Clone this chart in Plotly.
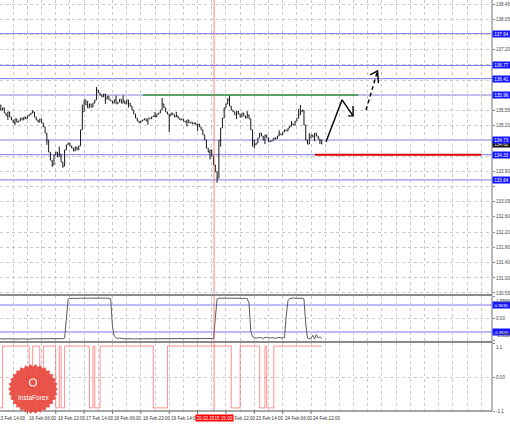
import math
import plotly.graph_objects as go
from plotly.subplots import make_subplots

# ---------------- data ----------------
bar_index = list(range(183))
close = [
    135.69, 135.55, 135.61,
    135.47, 135.39, 135.50, 135.36,
    135.28, 135.20, 135.31, 135.22,
    135.25, 135.33, 135.28, 135.36, 135.31, 135.39, 135.42, 135.47, 135.50,
    135.36, 135.28, 135.22, 135.31, 135.20,
    135.09, 134.92, 134.73,
    134.40, 134.18, 134.05,
    134.32, 134.40, 134.27, 134.35,
    134.13, 134.02,
    134.46, 134.60, 134.65, 134.57,
    134.51, 134.43, 134.54, 134.46, 134.57,
    135.01, 135.50, 135.83,
    135.69, 135.61, 135.72, 135.63, 135.74, 135.83,
    136.10, 136.02,
    135.96, 135.91, 135.99, 135.85, 135.93, 135.83,
    135.80, 135.74, 135.83, 135.72, 135.77, 135.85, 135.74, 135.80, 135.72, 135.83, 135.74,
    135.66, 135.55, 135.44, 135.33, 135.25, 135.20,
    135.25, 135.28, 135.31, 135.25, 135.33, 135.31, 135.36, 135.39, 135.36, 135.44, 135.47,
    135.55, 135.72, 135.61,
    135.50, 135.44, 135.39, 135.47, 135.42, 135.36, 135.39,
    135.33, 135.28, 135.31, 135.25, 135.22, 135.28, 135.20, 135.22, 135.17, 135.20, 135.14, 135.17, 135.09,
    135.01, 134.87, 134.73,
    134.51, 134.40, 134.46, 134.29,
    134.05, 133.86, 133.69,
    134.73, 135.06, 135.33,
    135.61, 135.72, 135.83, 135.66, 135.55,
    135.50, 135.42, 135.52, 135.44, 135.36, 135.47, 135.39, 135.33, 135.42, 135.31,
    135.01, 134.73, 134.60, 134.65,
    134.79, 134.92, 134.84, 134.73, 134.87, 134.79, 134.68,
    134.70, 134.73, 134.79, 134.76, 134.84, 134.90, 134.87, 134.95, 135.01, 134.98, 135.06, 135.11,
    135.17, 135.14, 135.25, 135.33, 135.42,
    135.50, 135.55,
    135.14, 134.73, 134.62,
    134.79, 134.87, 134.81, 134.92, 134.84, 134.76, 134.73,
    134.62,
]
first_open = 135.65
wick_high_bars = [0, 19, 34, 47, 50, 55, 66, 70, 88, 92, 100, 129, 130, 140, 158, 165,
                  169, 170, 175]
wick_high_vals = [135.80, 135.55, 134.55, 135.70, 135.80, 136.18, 135.95, 135.95, 135.50,
                  135.88, 135.50, 135.88, 135.95, 135.52, 135.00, 135.25, 135.58, 135.69,
                  134.92]
wick_low_bars = [5, 9, 27, 30, 36, 60, 73, 84, 96, 106, 112, 119, 123, 125, 134, 143, 144,
                 150, 178, 181]
wick_low_vals = [135.28, 135.14, 134.60, 134.00, 133.97, 135.72, 135.62, 135.15, 134.95,
                 135.10, 134.98, 134.20, 133.56, 134.55, 135.30, 134.55, 134.50, 134.62,
                 134.70, 134.62]

osc = [
    -1.44, -1.46, -1.45, -1.47, -1.45, -1.44, -1.46, -1.45, -1.45, -1.47,
    -1.46, -1.44, -1.45, -1.46, -1.45, -1.47, -1.45, -1.44, -1.46, -1.45,
    -1.45, -1.46, -1.44, -1.45, -1.47, -1.46, -1.45, -1.44, -1.45, -1.46,
    -1.45, -1.47, -1.45, -1.44, -1.46, -1.45, -1.44, -1.40,
    0.10,
    1.38, 1.44, 1.46, 1.45, 1.43, 1.46, 1.44, 1.45, 1.47, 1.44,
    1.45, 1.43, 1.46, 1.45, 1.44, 1.46, 1.45, 1.43, 1.45, 1.46,
    1.44, 1.45, 1.46, 1.44, 1.40,
    -0.60,
    -1.25, -1.38, -1.42, -1.40, -1.43,
    -1.45, -1.46, -1.44, -1.45, -1.47, -1.45, -1.44, -1.46, -1.45, -1.45,
    -1.46, -1.44, -1.45, -1.47, -1.46, -1.45, -1.44, -1.45, -1.46, -1.45,
    -1.47, -1.45, -1.44, -1.46, -1.45, -1.44, -1.45, -1.46, -1.45, -1.47,
    -1.46, -1.44, -1.45, -1.46, -1.45, -1.47, -1.45, -1.44, -1.46, -1.45,
    -1.45, -1.46, -1.44, -1.45, -1.47, -1.46, -1.45, -1.44, -1.45, -1.46,
    -1.45, -1.43,
    0.00,
    1.40, 1.45, 1.46, 1.44, 1.45, 1.47, 1.45, 1.44, 1.46, 1.45,
    1.44, 1.46, 1.45, 1.43, 1.45, 1.46, 1.44, 1.42,
    1.10,
    -0.90,
    -1.30,
    -1.36, -1.40, -1.38, -1.35, -1.39, -1.41, -1.37, -1.34, -1.38, -1.40,
    -1.36, -1.39, -1.42, -1.37, -1.35, -1.39, -1.40, -1.36,
    0.20,
    1.30,
    1.42, 1.45, 1.46, 1.44, 1.45, 1.46, 1.44, 1.45, 1.40,
    -0.40,
    -1.40,
    -1.45, -1.40, -1.20, -1.45, -1.15, -1.40, -1.30, -1.42,
]

signal_x = [0, 2, 17, 19, 23, 25, 32, 34, 35, 37, 51, 53, 54, 57, 87, 95,
            131, 136, 147, 150, 151, 155, 182]
signal_y = [-1, 1, -1, 1, -1, 1, -1, 1, -1, 1, -1, 1, -1, 1, -1, 1,
            -1, 1, -1, 1, -1, 1, 1]

level_values = [137.64, 136.77, 136.41, 135.96, 134.73, 134.33, 133.64]
level_labels = ["137.64", "136.77", "136.41", "135.96", "134.73", "134.33", "133.64"]

grid_values = [138.45, 138.03, 137.62, 137.20, 136.79, 136.37, 135.96, 135.54,
               135.12, 134.71, 134.29, 133.88, 133.46, 133.04, 132.63, 132.21,
               131.80, 131.38, 130.96, 130.55]
grid_labels = ["138.45", "138.05", "", "137.20", "", "", "", "135.55",
               "135.20", "", "", "133.90", "", "133.05", "132.60", "132.20",
               "131.80", "131.40", "131.00", "130.55"]

resistance_level, resistance_from, resistance_to = 135.96, 81.2, 202.5
support_level, support_from, support_to = 134.33, 178.2, 272.0

forecast_solid_x = [184.4, 193.5, 199.7]
forecast_solid_y = [134.68, 135.83, 135.39]
forecast_solid_head_x = [196.9, 199.7, 199.7]
forecast_solid_head_y = [135.39, 135.39, 135.66]
forecast_dash_x = [207.0, 213.5]
forecast_dash_y = [135.55, 136.62]
forecast_dash_head_x = [209.3, 213.5, 214.0]
forecast_dash_head_y = [136.51, 136.62, 136.29]

osc_level_values = [0.9630, -0.9630]
osc_level_labels = ["0.9630", "-0.9630"]

x_tick_bars = [0, 16, 32, 48, 64, 80, 96, 112, 128, 144, 160, 176]
x_tick_labels = ["13 Feb 14:00", "16 Feb 06:00", "16 Feb 22:00", "17 Feb 14:00",
                 "18 Feb 06:00", "18 Feb 22:00", "19 Feb 14:00", "",
                 "20 Feb 22:00", "23 Feb 14:00", "24 Feb 06:00", "24 Feb 22:00"]
event_bar = 121.3
event_label = "20.02.2015 15:00"

# ---------------- derived OHLC ----------------
opens = [first_open] + close[:-1]
highs = [max(o, c) for o, c in zip(opens, close)]
lows = [min(o, c) for o, c in zip(opens, close)]
for b, v in zip(wick_high_bars, wick_high_vals):
    highs[b] = max(highs[b], v)
for b, v in zip(wick_low_bars, wick_low_vals):
    lows[b] = min(lows[b], v)

# ---------------- figure ----------------
W, H = 510, 424
PW, PH = 492, 411  # plot area in px
FONT = "Liberation Sans"
FS = 4.6
X0 = 0.564  # first visible bar position (left edge)
X1 = 278.05

fig = make_subplots(rows=3, cols=1, shared_xaxes=True, vertical_spacing=0)

fig.add_trace(go.Ohlc(x=bar_index, open=opens, high=highs, low=lows, close=close,
                      increasing_line_color="#151515", decreasing_line_color="#151515",
                      line_width=1, tickwidth=0.35, hoverinfo="skip"), row=1, col=1)

fig.add_trace(go.Scatter(x=forecast_solid_x, y=forecast_solid_y, mode="lines",
                         line=dict(color="black", width=1.4)), row=1, col=1)
fig.add_trace(go.Scatter(x=forecast_solid_head_x, y=forecast_solid_head_y, mode="lines",
                         line=dict(color="black", width=1.4)), row=1, col=1)
fig.add_trace(go.Scatter(x=forecast_dash_x, y=forecast_dash_y, mode="lines",
                         line=dict(color="black", width=1.4, dash="4px,3px")), row=1, col=1)
fig.add_trace(go.Scatter(x=forecast_dash_head_x, y=forecast_dash_head_y, mode="lines",
                         line=dict(color="black", width=1.4)), row=1, col=1)

fig.add_trace(go.Scatter(x=bar_index, y=osc, mode="lines",
                         line=dict(color="#5a5a5a", width=1)), row=2, col=1)
fig.add_trace(go.Scatter(x=signal_x, y=signal_y, mode="lines",
                         line=dict(color="rgba(255,70,70,0.6)", width=1, shape="hv")),
              row=3, col=1)

# horizontal levels
for v in level_values:
    fig.add_shape(type="line", xref="x domain", yref="y", x0=0, x1=1, y0=v, y1=v,
                  line=dict(color="#7878f4", width=1), layer="below")
for v in osc_level_values:
    fig.add_shape(type="line", xref="x2 domain", yref="y2", x0=0, x1=1, y0=v, y1=v,
                  line=dict(color="#7878f4", width=1), layer="below")
fig.add_shape(type="line", xref="x", yref="y", x0=resistance_from, x1=resistance_to,
              y0=resistance_level, y1=resistance_level,
              line=dict(color="#33993a", width=1.6))
fig.add_shape(type="line", xref="x", yref="y", x0=support_from, x1=support_to,
              y0=support_level, y1=support_level,
              line=dict(color="#e00000", width=2))

# event vertical line
fig.add_shape(type="line", xref="x", yref="paper", x0=event_bar, x1=event_bar, y0=0, y1=1,
              line=dict(color="rgba(255,90,90,0.75)", width=1))

def py(px):
    return (PH - px) / PH

def pxx(px):
    return px / PW

def bar_to_paper(b):
    return (b - X0) / (X1 - X0)

# panel separators and frame
for ypx, w in [(295, 2.2), (342, 2.2), (411, 1.5)]:
    fig.add_shape(type="line", xref="paper", yref="paper", x0=0, x1=1, y0=py(ypx), y1=py(ypx),
                  line=dict(color="#8a8a8a", width=w))
fig.add_shape(type="line", xref="paper", yref="paper", x0=1, x1=1, y0=0, y1=1,
              line=dict(color="#8a8a8a", width=1.2))

# InstaForex badge
cx, cy, r_out, r_in, n = 33, 389, 25, 22.5, 30
pts = []
for k in range(2 * n):
    a = k * math.pi / n
    r = r_out if k % 2 == 0 else r_in
    pts.append((pxx(cx + r * math.cos(a)), py(cy + r * math.sin(a))))
path = "M " + " L ".join(f"{x:.5f},{y:.5f}" for x, y in pts) + " Z"
fig.add_shape(type="path", xref="paper", yref="paper", path=path,
              fillcolor="#e8463c", line=dict(width=0), opacity=0.92)
fig.add_shape(type="circle", xref="paper", yref="paper",
              x0=pxx(cx - 3.5), x1=pxx(cx + 3.5), y0=py(cy - 3), y1=py(cy - 10),
              line=dict(color="white", width=1.2))

annotations = []
annotations.append(dict(x=pxx(cx), y=py(cy + 8), xref="paper", yref="paper",
                        xanchor="center", yanchor="middle",
                        text="InstaForex", showarrow=False,
                        font=dict(family=FONT, size=6.5, color="white")))

# axis labels (highlighted levels)
lab_common = dict(xref="paper", x=1, xanchor="left", yanchor="middle", showarrow=False,
                  width=17, height=6, borderpad=0, align="center")
annotations.append(dict(yref="y", y=close[-1], text=f"{close[-1]:.2f}", bgcolor="#111111",
                        font=dict(family=FONT, size=FS, color="white"), **lab_common))
for v, t in zip(level_values, level_labels):
    annotations.append(dict(yref="y", y=v, text=t, bgcolor="#1414ff",
                            font=dict(family=FONT, size=FS, color="white"), **lab_common))
for v, t in zip(osc_level_values, osc_level_labels):
    annotations.append(dict(yref="y2", y=v, text=t, bgcolor="#1414ff",
                            font=dict(family=FONT, size=4.3, color="white"), **lab_common))

plain = dict(xref="paper", x=1, xanchor="left", xshift=2, showarrow=False,
             font=dict(family=FONT, size=FS, color="#444444"))
annotations += [
    dict(yref="y2", y=1.5556, yanchor="top", text="1.5556", **plain),
    dict(yref="y2", y=0, yanchor="middle", text="0.00", **plain),
    dict(yref="y2", y=-1.5556, yanchor="bottom", text="-1.5556", **plain),
    dict(yref="y3", y=1.1, yanchor="top", text="1.1", **plain),
    dict(yref="y3", y=0, yanchor="middle", text="0.00", **plain),
    dict(yref="y3", y=-1.1, yanchor="middle", text="-1.1", **plain),
]

# x labels (paper coordinates so the clipped first label is still drawn)
for b, t in zip(x_tick_bars, x_tick_labels):
    if not t:
        continue
    annotations.append(dict(x=bar_to_paper(b), xref="paper", y=0, yref="paper",
                            yanchor="top", yshift=-3, xanchor="left",
                            xshift=-3 if b == 0 else 0, text=t,
                            showarrow=False,
                            font=dict(family=FONT, size=FS, color="#333333")))
annotations.append(dict(x=bar_to_paper(event_bar), xref="paper", y=0, yref="paper",
                        yanchor="top", yshift=-3, xanchor="center", text=event_label,
                        showarrow=False, bgcolor="#ff0000", borderpad=0.5,
                        font=dict(family=FONT, size=FS, color="white")))

fig.update_layout(width=W, height=H, margin=dict(l=0, r=W - PW, t=0, b=H - PH),
                  plot_bgcolor="white", paper_bgcolor="white", showlegend=False,
                  annotations=annotations)

grid = dict(showgrid=True, gridcolor="#c9c9c9", griddash="dot", gridwidth=1)
for i in (1, 2, 3):
    fig.update_xaxes(row=i, col=1, range=[X0, X1], tickmode="linear", tick0=0, dtick=8,
                     showticklabels=False, ticks="", zeroline=False, showline=False,
                     rangeslider_visible=False, **grid)

fig.update_yaxes(row=1, col=1, domain=[py(294), 1], range=[130.52, 138.56], side="right",
                 tickmode="array", tickvals=grid_values, ticktext=grid_labels,
                 tickfont=dict(family=FONT, size=FS, color="#444444"),
                 ticks="outside", ticklen=2, tickcolor="#888888", zeroline=False, **grid)
fig.update_yaxes(row=2, col=1, domain=[py(341), py(296)], range=[-1.607, 1.607], side="right",
                 tickmode="array", tickvals=[1.5556, 0, -1.5556], showticklabels=False,
                 ticks="outside", ticklen=2, tickcolor="#888888", zeroline=False, **grid)
fig.update_yaxes(row=3, col=1, domain=[0, py(343)], range=[-1.1, 1.1], side="right",
                 tickmode="array", tickvals=[1.1, 0, -1.1], showticklabels=False,
                 ticks="outside", ticklen=2, tickcolor="#888888", zeroline=False, **grid)

# x tick marks below the bottom panel (every 16 bars)
for b in x_tick_bars:
    fig.add_shape(type="line", xref="paper", yref="paper", x0=bar_to_paper(b),
                  x1=bar_to_paper(b), y0=0, y1=py(PH + 3),
                  line=dict(color="#777777", width=1))

fig.write_html("out.html", config={"displayModeBar": False},
               post_script="document.body.style.margin='0px';document.body.style.overflow='hidden';")
